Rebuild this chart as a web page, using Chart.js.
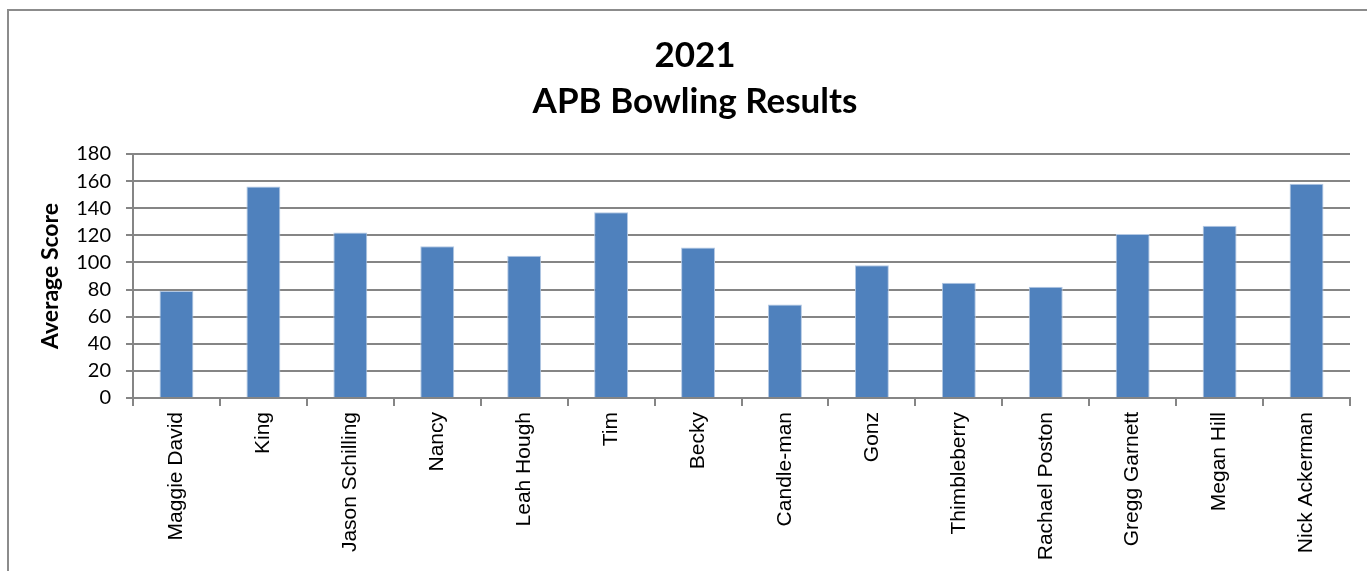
<!DOCTYPE html>
<html>
<head>
<meta charset="utf-8">
<script src="https://cdn.jsdelivr.net/npm/chart.js@4"></script>
<style>
  html, body { margin: 0; padding: 0; background: #fff; overflow: hidden; }
  #frame { position: absolute; left: 7px; top: 9px; width: 1380px; height: 600px; border: 2px solid #8c8c8c; box-sizing: border-box; }
  #wrap { position: absolute; left: 0; top: 0; width: 1367px; height: 571px; }
</style>
</head>
<body>
<div id="frame"></div>
<div id="wrap"><canvas id="c"></canvas></div>
<script>
const categories = ["Maggie David", "King", "Jason Schilling", "Nancy", "Leah Hough", "Tim", "Becky", "Candle-man", "Gonz", "Thimbleberry", "Rachael Poston", "Gregg Garnett", "Megan Hill", "Nick Ackerman"];
const scores = [79, 156, 122, 112, 105, 137, 111, 69, 98, 85, 82, 121, 127, 158];
const titleLines = ["2021", "APB Bowling Results"];
const yAxisTitle = "Average Score";

const FONT = "Lato, 'Open Sans', sans-serif";
const XFONT = "'Liberation Sans', Arial, sans-serif";
const GRID = "#858585";

new Chart(document.getElementById('c'), {
  type: 'bar',
  data: {
    labels: categories,
    datasets: [{
      data: scores,
      backgroundColor: '#4F81BD',
      borderColor: '#B3C8E3',
      borderWidth: 1,
      categoryPercentage: 1,
      barPercentage: 0.39
    }]
  },
  options: {
    responsive: true,
    maintainAspectRatio: false,
    animation: false,
    layout: { padding: { left: 40, right: 17, top: 33, bottom: 0 } },
    plugins: {
      legend: { display: false },
      tooltip: { enabled: false },
      title: {
        display: true,
        text: titleLines,
        color: '#000',
        font: { family: FONT, size: 35, weight: 'bold', lineHeight: 1.3 },
        padding: { top: 0, bottom: 30 }
      }
    },
    scales: {
      x: {
        grid: { drawOnChartArea: false, drawTicks: true, tickLength: 8, color: GRID, lineWidth: 2, offset: true },
        border: { color: GRID, width: 2 },
        ticks: { color: '#000', font: { family: XFONT, size: 21 }, minRotation: 90, maxRotation: 90, padding: 6, autoSkip: false },
        afterFit: (scale) => { scale.height = 173; }
      },
      y: {
        min: 0, max: 180,
        ticks: { stepSize: 20, color: '#000', font: { family: FONT, size: 20 }, padding: 15 },
        grid: { color: GRID, lineWidth: 2, tickLength: 7 },
        border: { color: GRID, width: 2 },
        title: { display: true, text: yAxisTitle, color: '#000', font: { family: FONT, size: 23, weight: 'bold', lineHeight: 0.8 }, padding: { top: 1, bottom: 0 } },
        afterFit: (scale) => { scale.width = 93; }
      }
    }
  }
});
</script>
</body>
</html>
